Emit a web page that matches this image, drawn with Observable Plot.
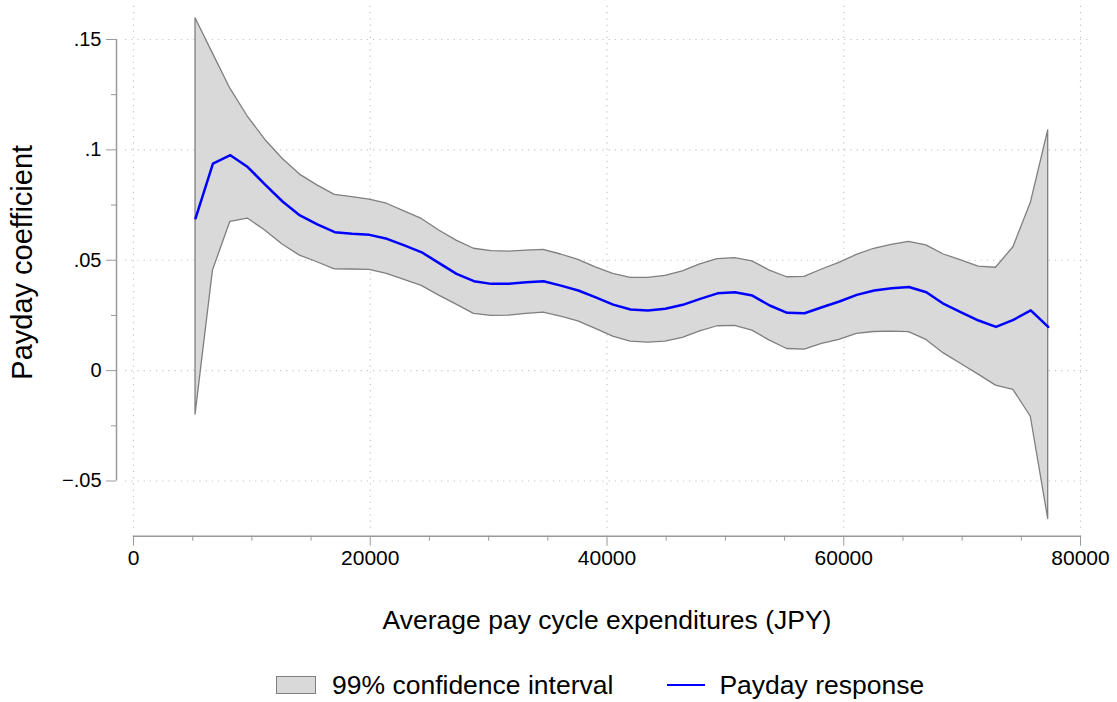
<!DOCTYPE html>
<html>
<head>
<meta charset="utf-8">
<script src="https://cdn.jsdelivr.net/npm/d3@7"></script>
<script src="https://cdn.jsdelivr.net/npm/@observablehq/plot@0.6"></script>
<style>
  html, body { margin: 0; padding: 0; background: white; }
  body { width: 1117px; height: 702px; position: relative; overflow: hidden; font-family: "Liberation Sans", Arial, Helvetica, sans-serif; }
  #legend { position: absolute; left: 276px; top: 670px; height: 30px; display: flex; align-items: center; font-size: 26.5px; color: #000; white-space: nowrap; }
  .swatch { width: 38px; height: 16px; background: #d9d9d9; border: 1px solid #808080; margin-right: 16px; }
  .lineswatch { width: 38px; height: 0; border-top: 2.5px solid #0000ff; margin-left: 54px; margin-right: 14px; }
</style>
</head>
<body>
<div id="chart"></div>
<div id="legend">
  <div class="swatch"></div><span>99% confidence interval</span>
  <div class="lineswatch"></div><span>Payday response</span>
</div>
<script>
// Average pay cycle expenditures (JPY)
const xs = [5240, 6710, 8180, 9650, 11120, 12590, 14060, 15530, 17000, 18470,
            19940, 21410, 22880, 24350, 25820, 27290, 28760, 30230, 31700, 33170,
            34640, 36110, 37580, 39050, 40520, 41990, 43460, 44930, 46400, 47870,
            49340, 50810, 52280, 53750, 55220, 56690, 58160, 59630, 61100, 62570,
            64040, 65510, 66980, 68450, 69920, 71390, 72860, 74330, 75800, 77270];
// Upper bound of 99% CI
const upper = [0.1596, 0.1436, 0.1277, 0.1151, 0.1046, 0.0960, 0.0888, 0.0839, 0.0796, 0.0786,
               0.0775, 0.0756, 0.0721, 0.0687, 0.0635, 0.0589, 0.0552, 0.0541, 0.0539, 0.0544,
               0.0547, 0.0526, 0.0502, 0.0468, 0.0438, 0.0420, 0.0420, 0.0429, 0.0450, 0.0481,
               0.0505, 0.0510, 0.0495, 0.0453, 0.0423, 0.0425, 0.0458, 0.0488, 0.0524, 0.0552,
               0.0570, 0.0583, 0.0567, 0.0526, 0.0499, 0.0471, 0.0466, 0.0559, 0.0759, 0.1088];
// Payday response (point estimate)
const mean = [0.0690, 0.0938, 0.0976, 0.0922, 0.0843, 0.0766, 0.0703, 0.0662, 0.0627, 0.0620,
              0.0615, 0.0597, 0.0567, 0.0536, 0.0487, 0.0438, 0.0405, 0.0393, 0.0393, 0.0400,
              0.0405, 0.0385, 0.0363, 0.0332, 0.0299, 0.0277, 0.0272, 0.0280, 0.0298, 0.0325,
              0.0350, 0.0355, 0.0340, 0.0295, 0.0262, 0.0260, 0.0287, 0.0313, 0.0343, 0.0363,
              0.0373, 0.0379, 0.0355, 0.0302, 0.0264, 0.0227, 0.0198, 0.0230, 0.0273, 0.0198];
// Lower bound of 99% CI
const lower = [-0.0199, 0.0453, 0.0674, 0.0689, 0.0635, 0.0571, 0.0521, 0.0491, 0.0459, 0.0458,
               0.0456, 0.0438, 0.0411, 0.0384, 0.0340, 0.0299, 0.0257, 0.0248, 0.0249, 0.0257,
               0.0263, 0.0245, 0.0223, 0.0189, 0.0154, 0.0131, 0.0127, 0.0131, 0.0148, 0.0178,
               0.0201, 0.0203, 0.0181, 0.0136, 0.0098, 0.0095, 0.0121, 0.0139, 0.0166, 0.0175,
               0.0177, 0.0174, 0.0139, 0.0078, 0.0030, -0.0018, -0.0068, -0.0087, -0.0209, -0.0672];

const xMajor = [0, 20000, 40000, 60000, 80000];
const xMinor = [5000, 10000, 15000, 25000, 30000, 35000, 45000, 50000, 55000, 65000, 70000, 75000];
const yMajor = [-0.05, 0, 0.05, 0.1, 0.15];
const yMinor = [-0.025, 0.025, 0.075, 0.125];
const yLabels = ["\u2212.05", "0", ".05", ".1", ".15"];

const data = xs.map((x, i) => ({x, lo: lower[i], hi: upper[i], m: mean[i]}));
const yLabelOf = d => yLabels[yMajor.findIndex(v => Math.abs(v - d) < 1e-9)];

const gridColor = "#c4c4c4";
const axisColor = "#9a9a9a";

const chart = Plot.plot({
  width: 1117,
  height: 650,
  marginLeft: 133,
  marginRight: 37,
  marginTop: 5.86,
  marginBottom: 114.3,
  x: {domain: [0, 80000]},
  y: {domain: [-0.075, 0.165]},
  style: {fontFamily: '"Liberation Sans", Arial, Helvetica, sans-serif', background: "white", color: "black"},
  marks: [
    Plot.gridX(xMajor, {stroke: gridColor, strokeOpacity: 1, strokeWidth: 1.2, strokeDasharray: "1.2,5", insetBottom: 8}),
    Plot.gridY(yMajor, {stroke: gridColor, strokeOpacity: 1, strokeWidth: 1.2, strokeDasharray: "1.2,5", insetLeft: -8, insetRight: -10}),
    Plot.areaY(data, {x: "x", y1: "lo", y2: "hi", fill: "#d9d9d9", stroke: "#7f7f7f", strokeWidth: 1.3}),
    Plot.lineY(data, {x: "x", y: "m", stroke: "#0000ff", strokeWidth: 2.5}),
    Plot.frame({anchor: "bottom", stroke: axisColor, strokeWidth: 1.5}),
    Plot.axisX(xMajor, {tickSize: 10, tickPadding: 4, fontSize: 21, stroke: axisColor, fill: "black", label: null, tickFormat: d => String(d)}),
    Plot.axisX(xMinor, {tickSize: 5, text: null, stroke: axisColor, label: null}),
    Plot.ruleX([0], {y1: -0.05, y2: 0.15, dx: -17, stroke: axisColor, strokeWidth: 1.5}),
    Plot.axisY(yMajor, {tickSize: 10, tickPadding: 5, dx: -17, fontSize: 20, stroke: axisColor, fill: "black", label: null, tickFormat: yLabelOf}),
    Plot.axisY(yMinor, {tickSize: 5, dx: -17, text: null, stroke: axisColor, label: null}),
    Plot.text(["Average pay cycle expenditures (JPY)"], {frameAnchor: "bottom", dy: 93, fontSize: 26.5, fill: "black"}),
    Plot.text(["Payday coefficient"], {frameAnchor: "left", textAnchor: "middle", rotate: -90, dx: -111, dy: -9, fontSize: 29, fill: "black"})
  ]
});
document.getElementById("chart").appendChild(chart);
</script>
</body>
</html>
